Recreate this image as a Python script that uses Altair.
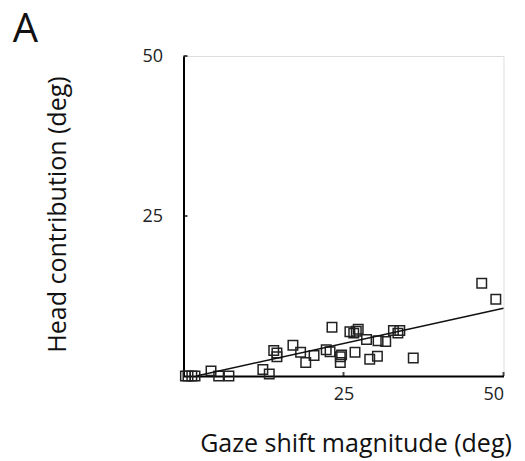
import altair as alt
import pandas as pd

gaze = [0.3, 0.7, 1.3, 1.8, 4.3, 5.5, 7.1, 12.4, 13.4, 14.1, 14.6, 14.6, 17.1, 18.3,
        19.1, 20.4, 22.3, 22.9, 23.2, 24.5, 24.5, 24.7, 26.0, 26.6, 27.3, 27.0, 26.8,
        28.6, 29.1, 30.3, 30.4, 31.6, 32.8, 33.8, 33.5, 35.9, 46.6, 48.8]
head = [0.0, 0.0, 0.0, 0.0, 0.8, 0.0, 0.0, 1.0, 0.3, 4.0, 3.0, 3.6, 4.8, 3.7,
        2.1, 3.2, 4.1, 3.8, 7.6, 3.0, 2.1, 3.3, 6.9, 6.7, 7.3, 7.0, 3.7,
        5.7, 2.6, 3.1, 5.5, 5.4, 7.1, 7.1, 6.7, 2.8, 14.5, 12.0]
fit_x = [2, 50]
fit_y = [0, 10.6]
tick_values = [25, 50]

pts = pd.DataFrame({"gaze": gaze, "head": head})
fit = pd.DataFrame({"gaze": fit_x, "head": fit_y})
xticks = pd.DataFrame({"gaze": tick_values, "head": [0, 0]})
yticks = pd.DataFrame({"gaze": [0, 0], "head": tick_values})

FONT = "Open Sans"

xscale = alt.Scale(domain=[0, 50], nice=False, zero=False)
yscale = alt.Scale(domain=[0, 50], nice=False, zero=False)

xaxis = alt.Axis(values=tick_values, title="Gaze shift magnitude (deg)", grid=False,
                 ticks=False, domainColor="black", domainWidth=2,
                 labelFont=FONT, labelFontSize=18, labelColor="#222", labelPadding=9,
                 titleFont=FONT, titleFontSize=25, titleFontWeight="normal", titleColor="#111",
                 titleX=172, titleY=75, titleBaseline="alphabetic", titleAlign="center")
yaxis = alt.Axis(values=tick_values, title="Head contribution (deg)", grid=False,
                 ticks=False, domainColor="black", domainWidth=2,
                 labelFont=FONT, labelFontSize=18, labelColor="#222", labelPadding=21,
                 titleFont=FONT, titleFontSize=25, titleFontWeight="normal", titleColor="#111",
                 titleX=-118.5, titleY=158, titleBaseline="alphabetic", titleAlign="center",
                 titleAngle=-90)

points = alt.Chart(pts).mark_point(shape="square", filled=False, size=90, strokeWidth=1.5,
                                   color="#222", opacity=1, clip=False).encode(
    x=alt.X("gaze:Q", scale=xscale, axis=xaxis),
    y=alt.Y("head:Q", scale=yscale, axis=yaxis),
)

line = alt.Chart(fit).mark_line(color="#111", strokeWidth=1.5).encode(
    x=alt.X("gaze:Q", scale=xscale),
    y=alt.Y("head:Q", scale=yscale),
)

xt = alt.Chart(xticks).mark_tick(orient="vertical", size=4, thickness=2, color="black",
                                 yOffset=-2).encode(
    x=alt.X("gaze:Q", scale=xscale), y=alt.Y("head:Q", scale=yscale))
yt = alt.Chart(yticks).mark_tick(orient="horizontal", size=4, thickness=2, color="black",
                                 xOffset=2).encode(
    x=alt.X("gaze:Q", scale=xscale), y=alt.Y("head:Q", scale=yscale))

label = alt.Chart(pd.DataFrame({"t": ["A"]})).mark_text(
    font=FONT, fontSize=40, color="#111", align="center", baseline="alphabetic"
).encode(text="t:N", x=alt.value(-158), y=alt.value(-14))

chart = alt.layer(points, line, xt, yt, label).properties(
    width=320, height=320,
    autosize=alt.AutoSizeParams(type="none"),
    padding={"left": 175.5, "top": 48, "right": 13, "bottom": 84},
).configure_view(stroke=None).configure(background="white")

chart.save("out.html", embed_options={"renderer": "svg", "actions": False})
